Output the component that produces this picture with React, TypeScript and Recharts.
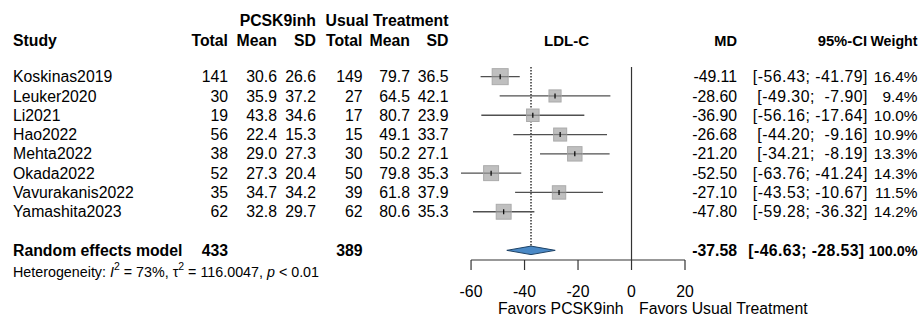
import React from "react";
import {
  ComposedChart,
  Scatter,
  ErrorBar,
  XAxis,
  YAxis,
  ReferenceLine,
  ReferenceArea,
} from "recharts";

// ---------- data ----------
const studies = [
  "Koskinas2019",
  "Leuker2020",
  "Li2021",
  "Hao2022",
  "Mehta2022",
  "Okada2022",
  "Vavurakanis2022",
  "Yamashita2023",
];
const totalPcsk = [141, 30, 19, 56, 38, 52, 35, 62];
const meanPcsk = [30.6, 35.9, 43.8, 22.4, 29.0, 27.3, 34.7, 32.8];
const sdPcsk = [26.6, 37.2, 34.6, 15.3, 27.3, 20.4, 34.2, 29.7];
const totalUsual = [149, 27, 17, 15, 30, 50, 39, 62];
const meanUsual = [79.7, 64.5, 80.7, 49.1, 50.2, 79.8, 61.8, 80.6];
const sdUsual = [36.5, 42.1, 23.9, 33.7, 27.1, 35.3, 37.9, 35.3];
const md = [-49.11, -28.6, -36.9, -26.68, -21.2, -52.5, -27.1, -47.8];
const ciLower = [-56.43, -49.3, -56.16, -44.2, -34.21, -63.76, -43.53, -59.28];
const ciUpper = [-41.79, -7.9, -17.64, -9.16, -8.19, -41.24, -10.67, -36.32];
const weights = [16.4, 9.4, 10.0, 10.9, 13.3, 14.3, 11.5, 14.2];

const pooledTotalPcsk = 433;
const pooledTotalUsual = 389;
const pooledMd = -37.58;
const pooledLower = -46.63;
const pooledUpper = -28.53;
const pooledWeight = 100.0;
const heterogeneityI2 = "73%";
const heterogeneityTau2 = "116.0047";
const heterogeneityP = "< 0.01";

const xTicks = [-60, -40, -20, 0, 20];
const pooledRow = studies.length + 1;

// ---------- layout ----------
const W = 920;
const H = 318;
const FONT = "'Liberation Sans', Arial, Helvetica, sans-serif";
const FS = 15.8;
const FS_RH = 14.4; // right-side bold headers
const PLOT_TOP = 67;
const PLOT_BOTTOM = 260;
const Y_MIN = -0.5;
const Y_MAX = 9.5;
const ROW_H = (PLOT_BOTTOM - PLOT_TOP) / (Y_MAX - Y_MIN);
const rowCenter = (r: number) => PLOT_TOP + (r - Y_MIN) * ROW_H;
const base = (r: number) => rowCenter(r) + 5.6;

const LINE_COL = "#505050";

const scatterData = studies.map((s, i) => ({
  name: s,
  x: md[i],
  y: i,
  err: [md[i] - ciLower[i], ciUpper[i] - md[i]],
  w: weights[i],
}));

const fmtCI = (lo: number, hi: number) =>
  `[${lo.toFixed(2).padStart(6, " ")}; ${hi.toFixed(2).padStart(6, " ")}]`;

const StudyBox = (props: any) => {
  const { cx, cy, payload } = props;
  if (cx == null || cy == null) return null;
  const s = 3.95 * Math.sqrt(payload.w);
  return (
    <g>
      <rect
        x={cx - s / 2}
        y={cy - s / 2}
        width={s}
        height={s}
        fill="#bfbfbf"
        stroke="#ababab"
        strokeWidth={1}
      />
      <line x1={cx - s / 2} x2={cx + s / 2} y1={cy} y2={cy} stroke={LINE_COL} strokeWidth={1.2} strokeOpacity={0.6} />
      <line x1={cx} x2={cx} y1={cy - 2.5} y2={cy + 2.5} stroke="#000" strokeWidth={1.2} />
    </g>
  );
};

const Diamond = (props: any) => {
  const { x, y, width, height } = props;
  const cy = y + height / 2;
  const mid = x + width / 2;
  const pts = `${x},${cy} ${mid},${y} ${x + width},${cy} ${mid},${y + height}`;
  return <polygon points={pts} fill="#4a89c6" stroke="#1d4266" strokeWidth={1} />;
};

const T = (p: any) => (
  <text
    fontFamily={FONT}
    fontSize={FS}
    fill="#000"
    style={{ whiteSpace: "pre" }}
    {...p}
  />
);

export default function App() {
  const colX = {
    study: 13,
    totE: 228,
    meanE: 277,
    sdE: 316,
    totC: 362.5,
    meanC: 410,
    sdC: 448.5,
    md: 737,
    ci: 867.5,
    wt: 917.5,
  };
  return (
    <div
      style={{
        position: "absolute",
        left: 0,
        top: 0,
        width: W,
        height: H,
        background: "#fff",
      }}
    >
      <ComposedChart
        width={W}
        height={H}
        margin={{ top: PLOT_TOP, right: 235, bottom: H - PLOT_BOTTOM - 30, left: 455 }}
      >
        <XAxis
          type="number"
          dataKey="x"
          domain={[-66, 20]}
          ticks={xTicks}
          interval={0}
          axisLine={false}
          tickLine={{ stroke: "#333", strokeWidth: 1.2 }}
          tickSize={10}
          tickMargin={16}
          height={30}
          tick={{ fill: "#000", fontSize: FS, fontFamily: FONT }}
        />
        <YAxis type="number" dataKey="y" domain={[Y_MIN, Y_MAX]} reversed hide />
        <ReferenceLine x={0} stroke="#333" strokeWidth={1.2} />
        <ReferenceLine
          segment={[
            { x: xTicks[0], y: Y_MAX },
            { x: xTicks[xTicks.length - 1], y: Y_MAX },
          ]}
          stroke="#333"
          strokeWidth={1.2}
        />
        <ReferenceLine
          segment={[
            { x: pooledMd, y: Y_MIN },
            { x: pooledMd, y: pooledRow - 0.22 },
          ]}
          stroke="#000"
          strokeWidth={1.2}
          strokeDasharray="1.5 1.5"
        />
        <ReferenceArea
          x1={pooledLower}
          x2={pooledUpper}
          y1={pooledRow - 0.22}
          y2={pooledRow + 0.22}
          shape={Diamond}
        />
        <Scatter data={scatterData} shape={StudyBox} isAnimationActive={false}>
          <ErrorBar
            dataKey="err"
            direction="x"
            width={0}
            stroke={LINE_COL}
            strokeWidth={1.3}
          />
        </Scatter>
      </ComposedChart>

      <svg
        width={W}
        height={H}
        style={{ position: "absolute", left: 0, top: 0, pointerEvents: "none" }}
      >
        {/* headers */}
        <T x={colX.sdE} y={26} textAnchor="end" fontWeight="bold">PCSK9inh</T>
        <T x={colX.sdC} y={26} textAnchor="end" fontWeight="bold">Usual Treatment</T>
        <T x={colX.study} y={45.5} fontWeight="bold">Study</T>
        <T x={colX.totE} y={45.5} textAnchor="end" fontWeight="bold">Total</T>
        <T x={colX.meanE} y={45.5} textAnchor="end" fontWeight="bold">Mean</T>
        <T x={colX.sdE} y={45.5} textAnchor="end" fontWeight="bold">SD</T>
        <T x={colX.totC} y={45.5} textAnchor="end" fontWeight="bold">Total</T>
        <T x={colX.meanC} y={45.5} textAnchor="end" fontWeight="bold">Mean</T>
        <T x={colX.sdC} y={45.5} textAnchor="end" fontWeight="bold">SD</T>
        <T x={566.5} y={45.5} textAnchor="middle" fontWeight="bold" fontSize={FS_RH + 0.6}>LDL-C</T>
        <T x={colX.md} y={45.5} textAnchor="end" fontWeight="bold" fontSize={FS_RH + 0.2}>MD</T>
        <T x={colX.ci - 0.5} y={45.5} textAnchor="end" fontWeight="bold" fontSize={FS_RH + 0.4}>95%-CI</T>
        <T x={colX.wt} y={45.5} textAnchor="end" fontWeight="bold" fontSize={FS_RH - 0.2}>Weight</T>

        {studies.map((s, i) => (
          <g key={s}>
            <T x={colX.study} y={base(i)}>{s}</T>
            <T x={colX.totE} y={base(i)} textAnchor="end">{String(totalPcsk[i])}</T>
            <T x={colX.meanE} y={base(i)} textAnchor="end">{meanPcsk[i].toFixed(1)}</T>
            <T x={colX.sdE} y={base(i)} textAnchor="end">{sdPcsk[i].toFixed(1)}</T>
            <T x={colX.totC} y={base(i)} textAnchor="end">{String(totalUsual[i])}</T>
            <T x={colX.meanC} y={base(i)} textAnchor="end">{meanUsual[i].toFixed(1)}</T>
            <T x={colX.sdC} y={base(i)} textAnchor="end">{sdUsual[i].toFixed(1)}</T>
            <T x={colX.md} y={base(i)} textAnchor="end">{md[i].toFixed(2)}</T>
            <T x={colX.ci + 0.5} y={base(i)} textAnchor="end" letterSpacing={0.5}>{fmtCI(ciLower[i], ciUpper[i])}</T>
            <T x={colX.wt} y={base(i)} textAnchor="end" fontSize={FS - 0.4}>{`${weights[i].toFixed(1)}%`}</T>
          </g>
        ))}

        {/* pooled */}
        <T x={colX.study} y={base(pooledRow)} fontWeight="bold">Random effects model</T>
        <T x={colX.totE} y={base(pooledRow)} textAnchor="end" fontWeight="bold">{String(pooledTotalPcsk)}</T>
        <T x={colX.totC} y={base(pooledRow)} textAnchor="end" fontWeight="bold">{String(pooledTotalUsual)}</T>
        <T x={colX.md} y={base(pooledRow)} textAnchor="end" fontWeight="bold">{pooledMd.toFixed(2)}</T>
        <T x={colX.ci - 3} y={base(pooledRow)} textAnchor="end" fontWeight="bold" letterSpacing={0.4}>{fmtCI(pooledLower, pooledUpper)}</T>
        <T x={colX.wt} y={base(pooledRow)} textAnchor="end" fontWeight="bold" fontSize={FS_RH}>{`${pooledWeight.toFixed(1)}%`}</T>

        {/* heterogeneity */}
        <text x={colX.study} y={276.5} fontFamily={FONT} fontSize={14.3} fill="#000" style={{ whiteSpace: "pre" }}>
          <tspan>Heterogeneity: </tspan>
          <tspan fontStyle="italic">I</tspan>
          <tspan dy={-6.5} fontSize={10.5}>2</tspan>
          <tspan dy={6.5}>{` = ${heterogeneityI2}, τ`}</tspan>
          <tspan dy={-6.5} fontSize={10.5}>2</tspan>
          <tspan dy={6.5}>{` = ${heterogeneityTau2}, `}</tspan>
          <tspan fontStyle="italic">p</tspan>
          <tspan>{` ${heterogeneityP}`}</tspan>
        </text>

        {/* favours labels */}
        <T x={623.5} y={313.5} textAnchor="end">Favors PCSK9inh</T>
        <T x={639} y={313.5}>Favors Usual Treatment</T>
      </svg>
    </div>
  );
}
